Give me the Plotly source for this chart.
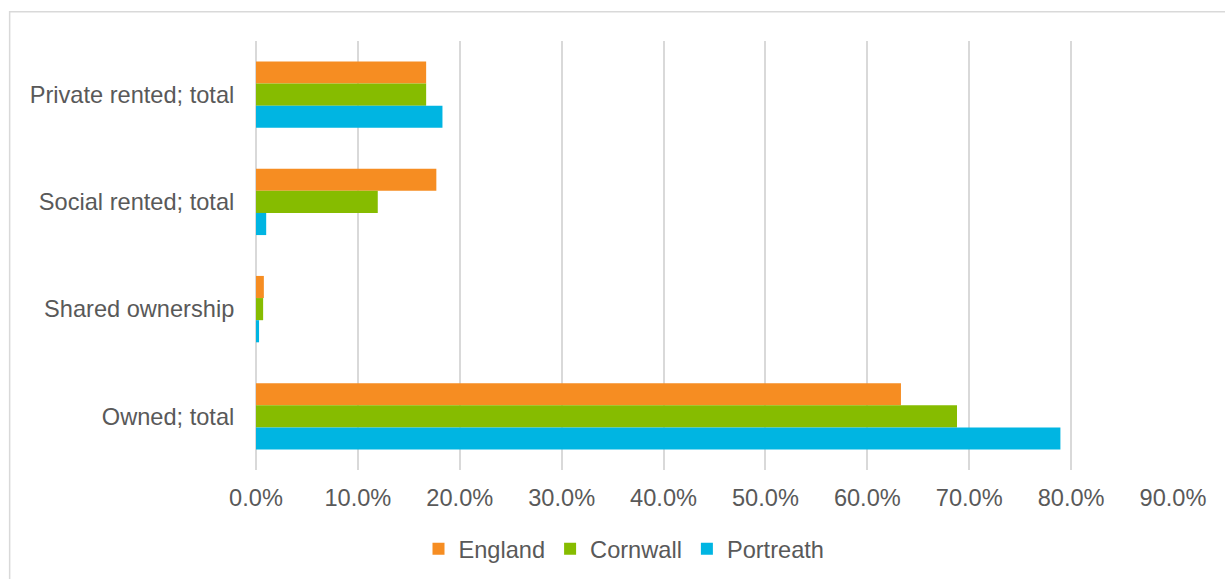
import plotly.graph_objects as go

categories = ["Private rented; total", "Social rented; total", "Shared ownership", "Owned; total"]
series_names = ["England", "Cornwall", "Portreath"]
england = [0.167, 0.177, 0.0077, 0.633]
cornwall = [0.167, 0.1195, 0.007, 0.688]
portreath = [0.183, 0.010, 0.003, 0.7895]
colors = ["#F68D22", "#86BC00", "#00B5E2"]

values = [england, cornwall, portreath]

fig = go.Figure()
for name, vals, col in zip(series_names, values, colors):
    fig.add_trace(go.Bar(
        y=categories, x=vals, name=name, orientation="h",
        marker=dict(color=col, line=dict(width=0)),
    ))

W, H = 1225, 579
L, R, T, B = 255.5, 1173, 41.3, 469.6

font = dict(family="Liberation Sans, Arial, sans-serif", size=23.6, color="#595959")

fig.update_layout(
    width=W, height=H,
    margin=dict(l=L, r=W - R, t=T, b=H - B, pad=0),
    paper_bgcolor="white", plot_bgcolor="white",
    barmode="group", bargap=0.381, bargroupgap=0,
    font=font,
    showlegend=True,
    legend=dict(
        orientation="h", xref="container", yref="container",
        x=624 / W, xanchor="center", y=1 - 549 / H, yanchor="middle",
        font=font, traceorder="normal",
        itemwidth=30,
    ),
    xaxis=dict(
        range=[0, 0.9], dtick=0.1, tick0=0, tickformat=".1%",
        showgrid=True, gridcolor="#D9D9D9", gridwidth=1.5,
        zeroline=True, zerolinecolor="#D9D9D9", zerolinewidth=1.5,
        showline=False, ticks="outside", ticklen=7, tickcolor="rgba(0,0,0,0)",
        tickfont=font, fixedrange=True,
    ),
    yaxis=dict(
        categoryorder="array", categoryarray=categories,
        autorange="reversed",
        showgrid=False, zeroline=False, showline=False,
        ticks="outside", ticklen=16, tickcolor="rgba(0,0,0,0)",
        tickfont=font, fixedrange=True,
    ),
)

fig.add_shape(
    type="rect", xref="paper", yref="paper",
    x0=(9 - L) / (R - L), x1=1.3,
    y0=-1.0, y1=(B - 12) / (B - T),
    line=dict(color="#D9D9D9", width=1.5), fillcolor="rgba(0,0,0,0)",
    layer="below",
)

fig.write_html("out.html")
